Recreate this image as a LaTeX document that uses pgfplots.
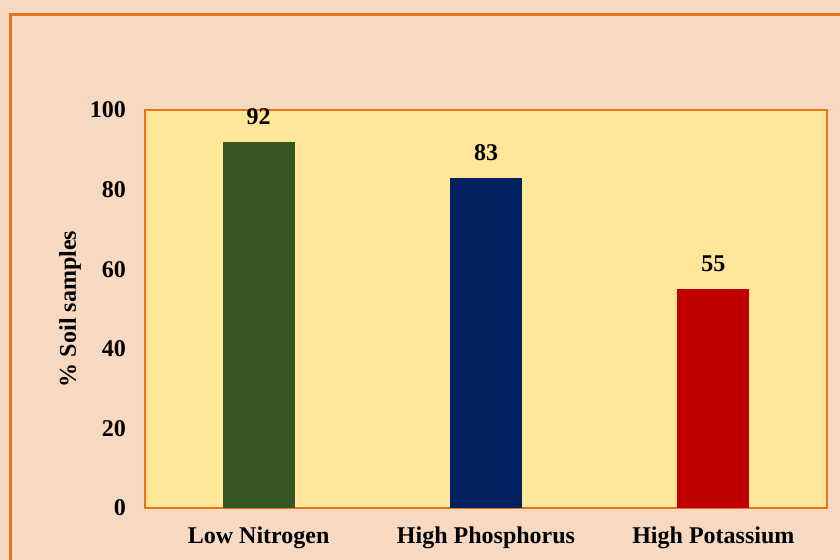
\documentclass[border=0pt]{standalone}
\usepackage{fontspec}
\setmainfont{Liberation Serif}
\usepackage{pgfplots}
\pgfplotsset{compat=1.18}
\definecolor{peach}{HTML}{F7D8C1}
\definecolor{borderor}{HTML}{E8741A}
\definecolor{plotbg}{HTML}{FFE699}
\definecolor{cgreen}{HTML}{375623}
\definecolor{cnavy}{HTML}{002060}
\definecolor{cred}{HTML}{C00000}
\begin{document}
\begin{tikzpicture}[x=1pt,y=1pt]
\useasboundingbox (0,0) rectangle (420,280);
\fill[peach] (0,0) rectangle (420,280);
\draw[borderor,line width=1.5pt] (5,0) -- (5,272.5) -- (420,272.5);
\begin{axis}[
  at={(72.5pt,26pt)}, anchor=south west,
  scale only axis, width=341pt, height=199pt,
  axis background/.style={fill=plotbg},
  axis line style={borderor,line width=1pt},
  xmin=-0.5, xmax=2.5, ymin=0, ymax=100,
  ytick={0,20,40,60,80,100},
  xtick={0,1,2},
  xticklabels={Low Nitrogen,High Phosphorus,High Potassium},
  major tick length=0pt,
  tick label style={font=\fontsize{12}{14}\selectfont\bfseries},
  /pgf/number format/assume math mode=true,
  yticklabel style={xshift=-6pt},
  xticklabel style={yshift=-6pt},
  ylabel={\% Soil samples},
  ylabel style={font=\fontsize{12}{14}\selectfont\bfseries, at={(axis description cs:-0.11,0.5)}, anchor=center},
  ybar, bar width=36pt, bar shift=0pt,
  nodes near coords,
  every node near coord/.append style={font=\fontsize{12}{14}\selectfont\bfseries, yshift=5pt},
]
\addplot[fill=cgreen, draw=none] coordinates {(0,92)};
\addplot[fill=cnavy, draw=none] coordinates {(1,83)};
\addplot[fill=cred, draw=none] coordinates {(2,55)};
\end{axis}
\end{tikzpicture}
\end{document}
